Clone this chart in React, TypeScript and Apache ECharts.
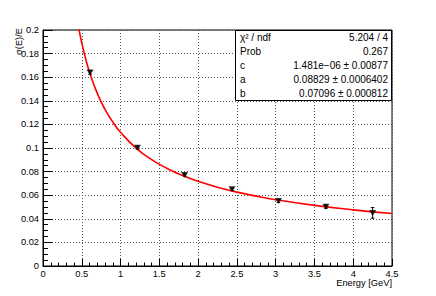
import React, { useEffect, useRef } from "react";
import * as echarts from "echarts";

// Measured points (energy in GeV, relative resolution, error)
const energy = [0.607, 1.218, 1.826, 2.437, 3.036, 3.648, 4.25];
const sigma = [0.164, 0.1003, 0.0772, 0.065, 0.0551, 0.0503, 0.045];
const sigmaErr = [0.0015, 0.0012, 0.001, 0.001, 0.0012, 0.0014, 0.0045];

// Fit curve
const fitEnergy = [0.46, 0.5, 0.55, 0.6, 0.7, 0.8, 0.9, 1.0, 1.2, 1.4, 1.6, 1.8, 2.0, 2.25, 2.5, 2.75, 3.0, 3.5, 4.0, 4.5];
const fitSigma = [0.2018, 0.189, 0.1756, 0.1643, 0.1463, 0.1327, 0.122, 0.1133, 0.09996, 0.0902, 0.0827, 0.0767, 0.0718, 0.0668, 0.0626, 0.0592, 0.0562, 0.0514, 0.0476, 0.0445];

// Stats box
const statLabels = ["χ² / ndf", "Prob", "c", "a", "b"];
const statValues = ["5.204 / 4", "0.267", "1.481e−06 ± 0.00877", "0.08829 ± 0.0006402", "0.07096 ± 0.000812"];

const xTitle = "Energy [GeV]";
const yTitle = "σ(E)/E";

const FONT = "'Liberation Sans', Arial, Helvetica, sans-serif";

export default function App() {
  const ref = useRef<HTMLDivElement>(null);
  useEffect(() => {
    if (!ref.current) return;
    const chart = echarts.init(ref.current, null, { renderer: "svg" });
    const gridL = 43, gridT = 30, gridW = 349, gridH = 236;
    const rowH = 14;
    const statGraphics: any[] = [];
    statGraphics.push({
      type: "rect",
      z: 100,
      shape: { x: 235.5, y: 30.5, width: 156, height: 70 },
      style: { fill: "#fff", stroke: "#000", lineWidth: 1 },
    });
    statLabels.forEach((lab, i) => {
      statGraphics.push({
        type: "text",
        z: 101,
        x: 240,
        y: 37 + i * rowH,
        style: { text: lab, font: `10px ${FONT}`, fill: "#000", align: "left", verticalAlign: "middle" },
      });
      statGraphics.push({
        type: "text",
        z: 101,
        x: 388,
        y: 37 + i * rowH,
        style: { text: statValues[i], font: `10px ${FONT}`, fill: "#000", align: "right", verticalAlign: "middle" },
      });
    });

    const option: any = {
      animation: false,
      backgroundColor: "#fff",
      grid: {
        left: gridL,
        top: gridT,
        width: gridW,
        height: gridH,
        show: true,
        borderColor: "#000",
        borderWidth: 1,
        backgroundColor: "transparent",
      },
      xAxis: {
        type: "value",
        min: 0,
        max: 4.5,
        interval: 0.5,
        axisLine: { show: true, onZero: false, lineStyle: { color: "#000", width: 1 } },
        axisTick: { show: true, inside: true, length: 7, lineStyle: { color: "#000" } },
        minorTick: { show: true, splitNumber: 5, length: 3.5, lineStyle: { color: "#000" } },
        axisLabel: { color: "#000", fontSize: 9.3, fontFamily: FONT, margin: 3 },
        splitLine: { show: true, lineStyle: { color: "#555", type: [1, 2], width: 1 } },
      },
      yAxis: {
        type: "value",
        min: 0,
        max: 0.2,
        interval: 0.02,
        axisLine: { show: true, onZero: false, lineStyle: { color: "#000", width: 1 } },
        axisTick: { show: true, inside: true, length: 10, lineStyle: { color: "#000" } },
        minorTick: { show: true, splitNumber: 4, length: 5, lineStyle: { color: "#000" } },
        axisLabel: {
          color: "#000",
          fontSize: 9.3,
          fontFamily: FONT,
          margin: 4,
          formatter: (v: number) => String(parseFloat(v.toFixed(3))),
        },
        splitLine: { show: true, lineStyle: { color: "#555", type: [1, 2], width: 1 } },
      },
      graphic: [
        {
          type: "text",
          x: 392,
          y: 283,
          style: { text: xTitle, font: `9.3px ${FONT}`, fill: "#000", align: "right", verticalAlign: "middle" },
        },
        {
          type: "text",
          x: 19,
          y: 28,
          rotation: Math.PI / 2,
          style: { text: yTitle, font: `9.3px ${FONT}`, fill: "#000", align: "right", verticalAlign: "middle" },
        },
        ...statGraphics,
      ],
      series: [
        {
          type: "line",
          data: fitEnergy.map((e, i) => [e, fitSigma[i]]),
          smooth: true,
          showSymbol: false,
          clip: true,
          lineStyle: { color: "#ff0000", width: 1.6 },
          z: 2,
        },
        {
          type: "custom",
          data: energy.map((e, i) => [e, sigma[i], sigmaErr[i]]),
          encode: { x: 0, y: 1 },
          z: 3,
          renderItem: (_p: any, api: any) => {
            const x = api.value(0);
            const y = api.value(1);
            const e = api.value(2);
            const top = api.coord([x, y + e]);
            const bot = api.coord([x, y - e]);
            const cw = 1.8;
            return {
              type: "group",
              children: [
                { type: "line", shape: { x1: top[0], y1: top[1], x2: bot[0], y2: bot[1] }, style: { stroke: "#000", lineWidth: 1 } },
                { type: "line", shape: { x1: top[0] - cw, y1: top[1], x2: top[0] + cw, y2: top[1] }, style: { stroke: "#000", lineWidth: 1 } },
                { type: "line", shape: { x1: bot[0] - cw, y1: bot[1], x2: bot[0] + cw, y2: bot[1] }, style: { stroke: "#000", lineWidth: 1 } },
              ],
            };
          },
        },
        {
          type: "scatter",
          data: energy.map((e, i) => [e, sigma[i]]),
          symbol: "triangle",
          symbolRotate: 180,
          symbolSize: [7, 6],
          itemStyle: { color: "#000" },
          z: 4,
        },
      ],
    };
    chart.setOption(option);
    return () => chart.dispose();
  }, []);
  return (
    <div
      ref={ref}
      style={{ position: "absolute", left: 0, top: 0, width: 436, height: 296, background: "#fff" }}
    />
  );
}
